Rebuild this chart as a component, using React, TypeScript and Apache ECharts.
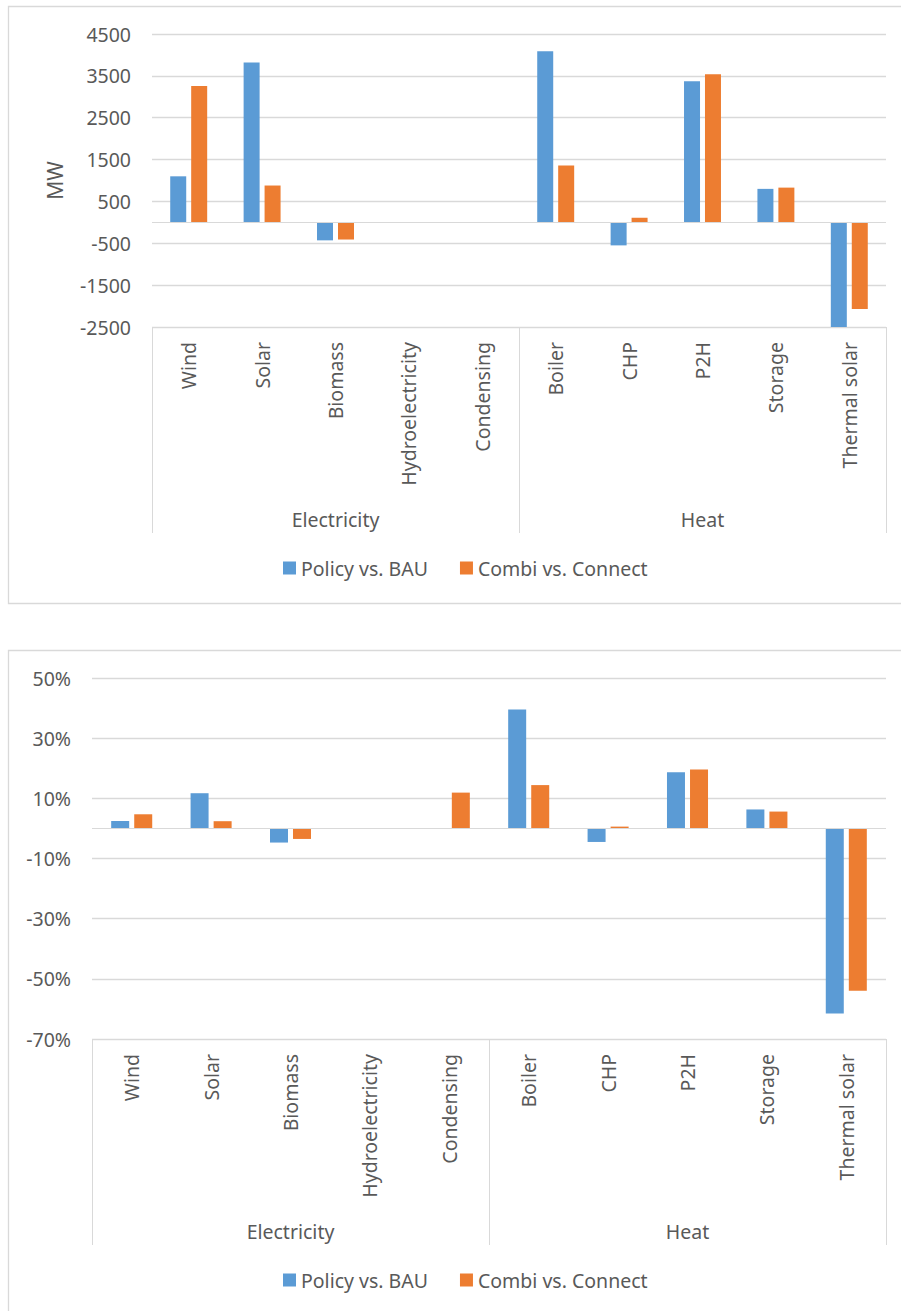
import React, { useEffect, useRef } from "react";
import * as echarts from "echarts";

// Technologies on the x axis and their parent groups
const categories = [
  "Wind",
  "Solar",
  "Biomass",
  "Hydroelectricity",
  "Condensing",
  "Boiler",
  "CHP",
  "P2H",
  "Storage",
  "Thermal solar",
];
const groups = ["Electricity", "Heat"];
const seriesNames = ["Policy vs. BAU", "Combi vs. Connect"];

// Capacity change, MW
const mwPolicy = [1100, 3820, -430, 0, 0, 4090, -550, 3370, 800, -2500];
const mwCombi = [3260, 880, -410, 0, 0, 1360, 110, 3540, 830, -2070];

// Relative change, %
const pctPolicy = [2.5, 11.7, -4.7, 0, 0, 39.5, -4.5, 18.7, 6.3, -61.5];
const pctCombi = [4.7, 2.4, -3.5, 0, 11.9, 14.4, 0.6, 19.6, 5.6, -54.0];

const BLUE = "#5b9bd5";
const ORANGE = "#ed7d31";
const TEXT = "#595959";
const GRID = "#d9d9d9";
const FONT = "Noto Sans";
const FS = 19.5;

export default function App() {
  const ref = useRef<HTMLDivElement>(null);

  useEffect(() => {
    if (!ref.current) return;
    const chart = echarts.init(ref.current, undefined, { renderer: "svg" });

    const catAxis = (gridIndex: number) => ({
      type: "category",
      gridIndex,
      data: categories,
      position: "bottom",
      axisLine: { show: false, onZero: false },
      axisTick: { show: false },
      axisLabel: {
        interval: 0,
        rotate: 90,
        margin: 15,
        color: TEXT,
        fontSize: FS,
        fontFamily: FONT,
      },
    });

    const groupAxis = (gridIndex: number) => ({
      type: "category",
      gridIndex,
      data: groups,
      position: "bottom",
      axisLine: { show: false, onZero: false },
      axisTick: {
        show: true,
        length: 206,
        lineStyle: { color: GRID, width: 1 },
      },
      axisLabel: {
        interval: 0,
        margin: 182,
        color: TEXT,
        fontSize: FS,
        fontFamily: FONT,
      },
    });

    const zeroLine = {
      silent: true,
      symbol: ["none", "none"],
      label: { show: false },
      lineStyle: { color: GRID, width: 1, type: "solid" },
      data: [{ yAxis: 0 }],
    };

    const barSeries = (
      name: string,
      data: number[],
      color: string,
      xAxisIndex: number,
      yAxisIndex: number,
      barWidth: number,
      barGap: string,
      withZero: boolean
    ) => ({
      type: "bar",
      name,
      data,
      xAxisIndex,
      yAxisIndex,
      barWidth,
      barGap,
      itemStyle: { color },
      ...(withZero ? { markLine: zeroLine } : {}),
    });

    chart.setOption({
      animation: false,
      backgroundColor: "#ffffff",
      textStyle: { fontFamily: FONT },
      graphic: [
        {
          type: "rect",
          shape: { x: 8.5, y: 6.5, width: 1000, height: 597 },
          style: { fill: "none", stroke: GRID, lineWidth: 1.3 },
          silent: true,
        },
        {
          type: "rect",
          shape: { x: 8.5, y: 650.5, width: 1000, height: 800 },
          style: { fill: "none", stroke: GRID, lineWidth: 1.3 },
          silent: true,
        },
      ],
      grid: [
        { left: 152, top: 34, width: 734, height: 293 },
        { left: 92, top: 678, width: 794, height: 361 },
      ],
      xAxis: [catAxis(0), groupAxis(0), catAxis(1), groupAxis(1)],
      yAxis: [
        {
          type: "value",
          gridIndex: 0,
          min: -2500,
          max: 4500,
          interval: 500,
          name: "MW",
          nameLocation: "middle",
          nameGap: 87,
          nameTextStyle: { color: TEXT, fontSize: 21, fontFamily: FONT },
          axisLine: { show: false },
          axisTick: { show: false },
          axisLabel: {
            margin: 21,
            color: TEXT,
            fontSize: FS,
            fontFamily: FONT,
            formatter: (v: number) =>
              Math.abs(Math.round(v) % 1000) === 500 ? String(v) : "",
          },
          splitLine: {
            show: true,
            lineStyle: { color: [GRID, "rgba(0,0,0,0)"], width: 1.3 },
          },
        },
        {
          type: "value",
          gridIndex: 1,
          min: -70,
          max: 50,
          interval: 10,
          axisLine: { show: false },
          axisTick: { show: false },
          axisLabel: {
            margin: 21,
            color: TEXT,
            fontSize: FS,
            fontFamily: FONT,
            formatter: (v: number) =>
              Math.abs(Math.round(v) % 20) === 10 ? v + "%" : "",
          },
          splitLine: {
            show: true,
            lineStyle: { color: [GRID, "rgba(0,0,0,0)"], width: 1.3 },
          },
        },
      ],
      legend: [
        {
          data: seriesNames,
          left: 283,
          top: 558,
          padding: 0,
          icon: "rect",
          itemWidth: 13,
          itemHeight: 13,
          itemGap: 32,
          textStyle: { color: TEXT, fontSize: FS, fontFamily: FONT },
        },
        {
          data: seriesNames,
          left: 283,
          top: 1270,
          padding: 0,
          icon: "rect",
          itemWidth: 13,
          itemHeight: 13,
          itemGap: 32,
          textStyle: { color: TEXT, fontSize: FS, fontFamily: FONT },
        },
      ],
      series: [
        barSeries(seriesNames[0], mwPolicy, BLUE, 0, 0, 16, "31%", true),
        barSeries(seriesNames[1], mwCombi, ORANGE, 0, 0, 16, "31%", false),
        barSeries(seriesNames[0], pctPolicy, BLUE, 2, 1, 18, "28%", true),
        barSeries(seriesNames[1], pctCombi, ORANGE, 2, 1, 18, "28%", false),
      ],
    });

    return () => chart.dispose();
  }, []);

  return (
    <div
      ref={ref}
      style={{ position: "absolute", left: 0, top: 0, width: 901, height: 1311 }}
    />
  );
}
